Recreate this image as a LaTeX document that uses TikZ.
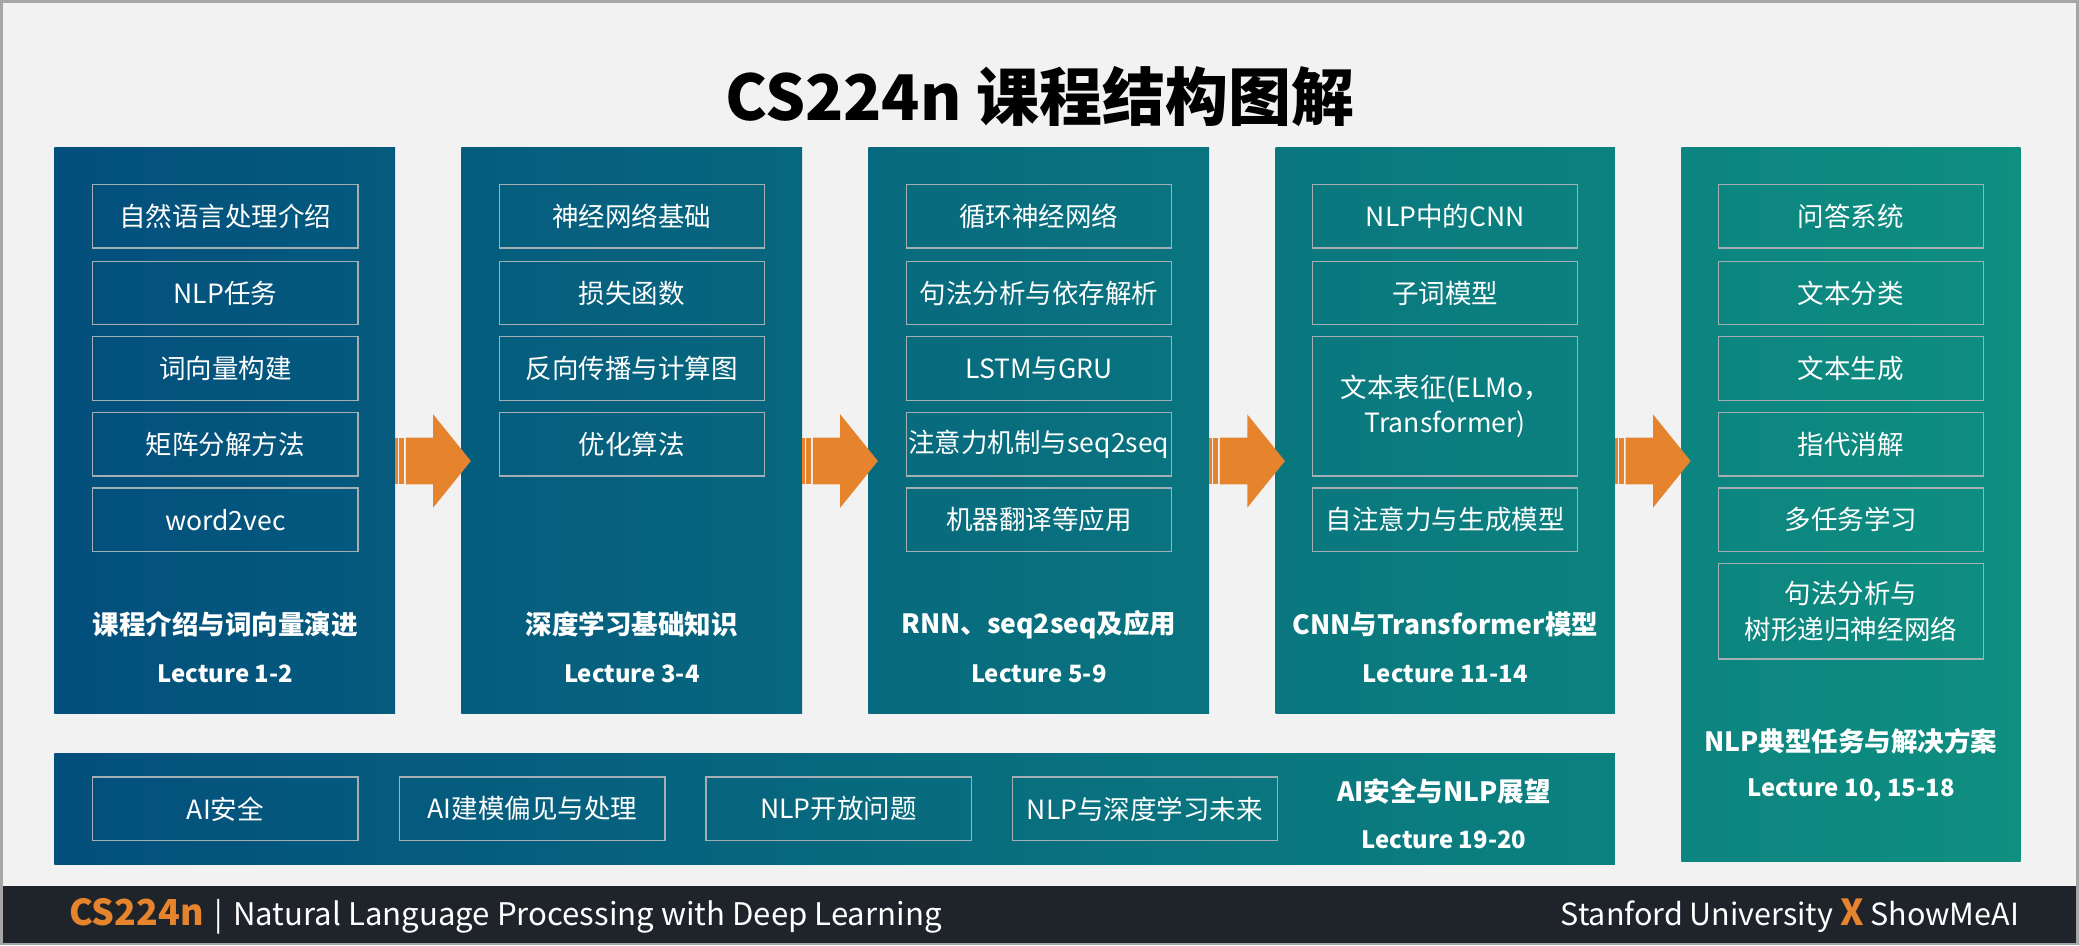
\documentclass[tikz,border=0pt]{standalone}
\usepackage{fontspec}
\setmainfont{Noto Sans CJK SC}
\usetikzlibrary{calc}
\definecolor{bgc}{HTML}{F2F2F2}
\definecolor{framec}{HTML}{A6A6A6}
\definecolor{cS}{HTML}{034F7D}
\definecolor{cE}{HTML}{0E8F80}
\definecolor{boxline}{HTML}{A3AFB5}
\definecolor{orc}{HTML}{E6842E}
\definecolor{footbg}{HTML}{1F232A}
\tikzset{
  colbox/.style={inner sep=0pt, outer sep=0pt, anchor=north west},
  item/.style={draw=boxline, line width=0.9pt, minimum width=200pt, minimum height=48pt, inner sep=0pt, text=white, font=\fontsize{20}{27}\selectfont, align=center},
  coltitle/.style={text=white, inner sep=0pt, font=\bfseries\fontsize{20}{24}\selectfont},
  lect/.style={text=white, inner sep=0pt, font=\bfseries\fontsize{18}{22}\selectfont},
  arrowfill/.style={fill=orc, draw=none},
}
\newcommand\blockarrow[1]{%
  \coordinate (s#1) at ([yshift=-23.2pt]#1.east);
  \fill[arrowfill] ($(s#1)+(0,-17.7)$) rectangle ($(s#1)+(2,17.7)$);
  \fill[arrowfill] ($(s#1)+(3,-17.7)$) rectangle ($(s#1)+(6.6,17.7)$);
  \fill[arrowfill] ($(s#1)+(8.1,-17.7)$) -- ($(s#1)+(28.7,-17.7)$) -- ($(s#1)+(28.7,-35.2)$) -- ($(s#1)+(57.1,0)$) -- ($(s#1)+(28.7,35.2)$) -- ($(s#1)+(28.7,17.7)$) -- ($(s#1)+(8.1,17.7)$) -- cycle;
}
\begin{document}
\begin{tikzpicture}[x=1pt,y=-1pt]
\useasboundingbox (0,0) rectangle (1568,713);
\fill[bgc] (0,0) rectangle (1568,713);
% title
\node[inner sep=0pt, font=\bfseries\fontsize{47.5}{50}\selectfont] (title) at (784,73) {CS224n 课程结构图解};
% columns
\node[colbox, minimum width=257pt, minimum height=427pt, left color=cS, right color=cE!17.3!cS] (c1) at (41,111) {};
\node[colbox, minimum width=257pt, minimum height=427pt, left color=cE!20.7!cS, right color=cE!38.1!cS] (c2) at (348,111) {};
\node[colbox, minimum width=257pt, minimum height=427pt, left color=cE!41.4!cS, right color=cE!58.7!cS] (c3) at (655,111) {};
\node[colbox, minimum width=256pt, minimum height=427pt, left color=cE!62.1!cS, right color=cE!79.4!cS] (c4) at (962,111) {};
\node[colbox, minimum width=256pt, minimum height=539pt, left color=cE!82.8!cS, right color=cE] (c5) at (1268,111) {};
\node[colbox, minimum width=1177pt, minimum height=84pt, left color=cS, right color=cE!79.4!cS] (bot) at (41,568) {};
% arrows
\blockarrow{c1}
\blockarrow{c2}
\blockarrow{c3}
\blockarrow{c4}
% column 1
\node[item] (a1) at (170,163) {自然语言处理介绍};
\node[item] (a2) at (170,221) {NLP任务};
\node[item] (a3) at (170,278) {词向量构建};
\node[item] (a4) at (170,335) {矩阵分解方法};
\node[item] (a5) at (170,392) {word2vec};
\node[coltitle] (t1) at (170,471) {课程介绍与词向量演进};
\node[lect] (l1) at (170,508) {Lecture 1-2};
% column 2
\node[item] (b1) at (476.5,163) {神经网络基础};
\node[item] (b2) at (476.5,221) {损失函数};
\node[item] (b3) at (476.5,278) {反向传播与计算图};
\node[item] (b4) at (476.5,335) {优化算法};
\node[coltitle] (t2) at (476.5,471) {深度学习基础知识};
\node[lect] (l2) at (476.5,508) {Lecture 3-4};
% column 3
\node[item] (d1) at (783.5,163) {循环神经网络};
\node[item] (d2) at (783.5,221) {句法分析与依存解析};
\node[item] (d3) at (783.5,278) {LSTM与GRU};
\node[item] (d4) at (783.5,335) {注意力机制与seq2seq};
\node[item] (d5) at (783.5,392) {机器翻译等应用};
\node[coltitle] (t3) at (783.5,471) {RNN、seq2seq及应用};
\node[lect] (l3) at (783.5,508) {Lecture 5-9};
% column 4
\node[item] (e1) at (1090,163) {NLP中的CNN};
\node[item] (e2) at (1090,221) {子词模型};
\node[item, minimum height=105pt] (e3) at (1090,306.5) {文本表征(ELMo，\\Transformer)};
\node[item] (e4) at (1090,392) {自注意力与生成模型};
\node[coltitle] (t4) at (1090,471) {CNN与Transformer模型};
\node[lect] (l4) at (1090,508) {Lecture 11-14};
% column 5
\node[item] (f1) at (1396,163) {问答系统};
\node[item] (f2) at (1396,221) {文本分类};
\node[item] (f3) at (1396,278) {文本生成};
\node[item] (f4) at (1396,335) {指代消解};
\node[item] (f5) at (1396,392) {多任务学习};
\node[item, minimum height=72pt] (f6) at (1396,461) {句法分析与\\树形递归神经网络};
\node[coltitle] (t5) at (1396,559) {NLP典型任务与解决方案};
\node[lect] (l5) at (1396,596) {Lecture 10, 15-18};
% bottom bar
\node[item] (g1) at (170,610) {AI安全};
\node[item] (g2) at (401.5,610) {AI建模偏见与处理};
\node[item] (g3) at (632.5,610) {NLP开放问题};
\node[item] (g4) at (863.5,610) {NLP与深度学习未来};
\node[coltitle] (t6) at (1089,597) {AI安全与NLP展望};
\node[lect] (l6) at (1089,633) {Lecture 19-20};
% footer
\node[colbox, fill=footbg, minimum width=1568pt, minimum height=45pt] (foot) at (0,668) {};
\node[anchor=west, inner sep=0pt, text=white, font=\fontsize{23.5}{28}\selectfont] (fl) at (52,691) {{\color{orc}\bfseries\fontsize{27}{28}\selectfont CS224n}\hspace{8pt}|\hspace{8pt}Natural Language Processing with Deep Learning};
\node[anchor=east, inner sep=0pt, text=white, font=\fontsize{23}{28}\selectfont] (fr) at (1523,691) {Stanford University {\color{orc}\bfseries\fontsize{27}{28}\selectfont X} ShowMeAI};
% frame
\draw[framec, line width=2pt] (1,1) rectangle (1567,712);
\end{tikzpicture}
\end{document}
